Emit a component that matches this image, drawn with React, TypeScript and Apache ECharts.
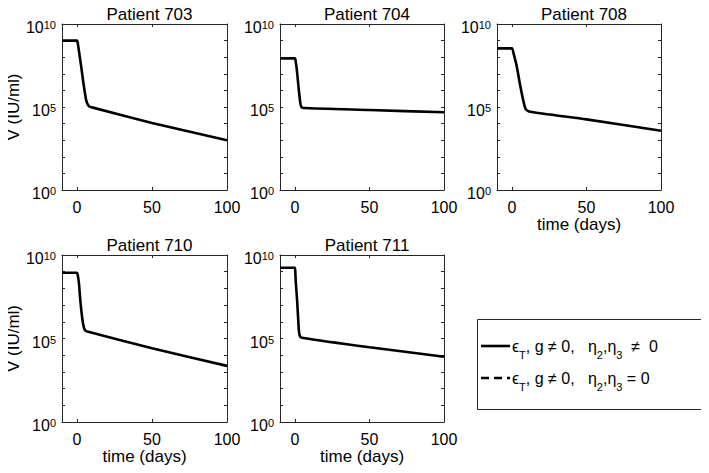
import React, { useEffect, useRef } from "react";
import * as echarts from "echarts";

const patients = ["Patient 703", "Patient 704", "Patient 708", "Patient 710", "Patient 711"];

const t703 = [-10, 0, 0.5, 1.2, 2.8, 4.3, 6.1, 7.8, 10, 50, 100];
const v703 = [1e9, 1e9, 7.1e8, 2.7e8, 2.7e7, 2.7e6, 2.6e5, 1.15e5, 9.5e4, 1.1e4, 1.0e3];

const t704 = [-10, 0, 0.5, 1.3, 2.4, 3.5, 4.2, 5.7, 50, 100];
const v704 = [8.5e7, 8.5e7, 5.6e7, 1.7e7, 1.66e6, 2.1e5, 1.05e5, 8.7e4, 6.6e4, 4.8e4];

const t708 = [-10, 0, 1.1, 3.3, 5.5, 7.8, 9.3, 12.2, 50, 100];
const v708 = [3.4e8, 3.4e8, 1.7e8, 2.7e7, 2.1e6, 2.1e5, 7.2e4, 5.2e4, 1.8e4, 3.7e3];

const t710 = [-10, 0, 0.5, 1.3, 2, 3.1, 4.2, 5.3, 6.9, 50, 100];
const v710 = [8.7e8, 8.7e8, 6.3e8, 2.0e8, 3.2e7, 3.2e6, 6.5e5, 3.2e5, 2.6e5, 2.6e4, 2.3e3];

const t711 = [-10, 0, 0.3, 0.64, 1.31, 1.98, 2.64, 3.31, 4.64, 50, 100];
const v711 = [1.74e9, 1.74e9, 8e8, 2.0e8, 3.2e7, 3.2e6, 3.2e5, 1.4e5, 1.12e5, 3.0e4, 8.1e3];

const times = [t703, t704, t708, t710, t711];
const values = [v703, v704, v708, v710, v711];

const xTicks = [0, 50, 100];
const yLabelExps = [0, 5, 10];

const legendLabels = [
  "{n|ϵ}{s|T}{n|, g ≠ 0,   η}{s|2}{n|,η}{s|3}{n|  ≠  0}",
  "{n|ϵ}{s|T}{n|, g ≠ 0,   η}{s|2}{n|,η}{s|3}{n| = 0}",
];

const FONT = "Liberation Sans";
const AX = "#262626";

const grids = [
  { left: 62, top: 24, width: 165, height: 166 },
  { left: 280, top: 24, width: 164, height: 166 },
  { left: 497, top: 24, width: 164, height: 166 },
  { left: 62, top: 255, width: 165, height: 167 },
  { left: 280, top: 255, width: 164, height: 167 },
];

const showYName = [true, false, false, true, false];
const showXName = [false, false, true, true, true];

export default function App() {
  const ref = useRef<HTMLDivElement>(null);
  useEffect(() => {
    if (!ref.current) return;
    const chart = echarts.init(ref.current, null, { renderer: "svg" });
    const xAxis: any[] = [];
    const yAxis: any[] = [];
    const series: any[] = [];
    const title: any[] = [];
    const mkLine = () => ({ show: true, onZero: false, lineStyle: { color: AX, width: 1 } });
    const mkTick = (custom?: number[]) =>
      custom
        ? { show: true, inside: true, length: 3, customValues: custom, lineStyle: { color: AX } }
        : { show: true, inside: true, length: 3, lineStyle: { color: AX } };
    grids.forEach((g, i) => {
      title.push({
        text: patients[i],
        left: g.left + g.width / 2,
        top: g.top - 23,
        textAlign: "center",
        textStyle: { fontFamily: FONT, fontSize: 17, fontWeight: "normal", color: "#000" },
      });
      xAxis.push({
        gridIndex: i,
        type: "value",
        min: -10,
        max: 100,
        position: "bottom",
        name: showXName[i] ? "time (days)" : "",
        nameLocation: "middle",
        nameGap: 26,
        nameTextStyle: { fontFamily: FONT, fontSize: 17, color: "#000" },
        axisLine: mkLine(),
        axisTick: mkTick(xTicks),
        axisLabel: { customValues: xTicks, fontFamily: FONT, fontSize: 16, color: "#000", margin: 9 },
        splitLine: { show: false },
      });
      xAxis.push({
        gridIndex: i,
        type: "value",
        min: -10,
        max: 100,
        position: "top",
        axisLine: mkLine(),
        axisTick: mkTick(xTicks),
        axisLabel: { show: false },
        splitLine: { show: false },
      });
      yAxis.push({
        gridIndex: i,
        type: "log",
        logBase: 10,
        min: 1,
        max: 1e10,
        interval: 1,
        splitLine: { show: false },
        minorTick: { show: false },
        position: "left",
        name: showYName[i] ? "V (IU/ml)" : "",
        nameLocation: "middle",
        nameGap: 40,
        nameTextStyle: { fontFamily: FONT, fontSize: 17, color: "#000" },
        axisLine: mkLine(),
        axisTick: mkTick(),
        axisLabel: {
          interval: 0,
          margin: 6,
          padding: [7, 0, 0, 0],
          formatter: (v: number) => {
            const e = Math.round(Math.log10(v));
            return yLabelExps.includes(e) ? `{b|10}{p|${e}}` : "";
          },
          rich: {
            b: { fontFamily: FONT, fontSize: 16, lineHeight: 16, color: "#000", verticalAlign: "bottom" },
            p: { fontFamily: FONT, fontSize: 11, lineHeight: 11, color: "#000", verticalAlign: "top", padding: [0, 0, 10, 0] },
          },
        },
      });
      yAxis.push({
        gridIndex: i,
        type: "log",
        logBase: 10,
        min: 1,
        max: 1e10,
        interval: 1,
        splitLine: { show: false },
        minorTick: { show: false },
        position: "right",
        axisLine: mkLine(),
        axisTick: mkTick(),
        axisLabel: { show: false },
      });
      series.push({
        type: "line",
        xAxisIndex: 2 * i,
        yAxisIndex: 2 * i,
        data: times[i].map((t, k) => [t, values[i][k]]),
        showSymbol: false,
        symbol: "none",
        smooth: 0.2,
        lineStyle: { color: "#000", width: 2.6 },
      });
    });

    const richLegend = {
      n: { fontFamily: FONT, fontSize: 16, lineHeight: 20, color: "#000", verticalAlign: "top" },
      s: { fontFamily: FONT, fontSize: 11, lineHeight: 12, color: "#000", verticalAlign: "top", padding: [11, 0, 0, 0] },
    };

    chart.setOption({
      animation: false,
      backgroundColor: "#fff",
      title,
      grid: grids,
      xAxis,
      yAxis,
      series,
      graphic: [
        {
          type: "rect",
          shape: { x: 477.5, y: 319.5, width: 229, height: 90 },
          style: { fill: "#fff", stroke: AX, lineWidth: 1 },
          z: 10,
        },
        {
          type: "line",
          shape: { x1: 481, y1: 346, x2: 510, y2: 346 },
          style: { stroke: "#000", lineWidth: 2.6 },
          z: 11,
        },
        {
          type: "line",
          shape: { x1: 481, y1: 378, x2: 510, y2: 378 },
          style: { stroke: "#000", lineWidth: 2.6, lineDash: [8, 5] },
          z: 11,
        },
        {
          type: "text",
          x: 512,
          y: 348,
          style: { text: legendLabels[0], rich: richLegend, verticalAlign: "middle", align: "left" },
          z: 11,
        },
        {
          type: "text",
          x: 512,
          y: 380,
          style: { text: legendLabels[1], rich: richLegend, verticalAlign: "middle", align: "left" },
          z: 11,
        },
      ],
    });
    return () => chart.dispose();
  }, []);
  return <div ref={ref} style={{ width: 709, height: 473, margin: -8 }} />;
}
